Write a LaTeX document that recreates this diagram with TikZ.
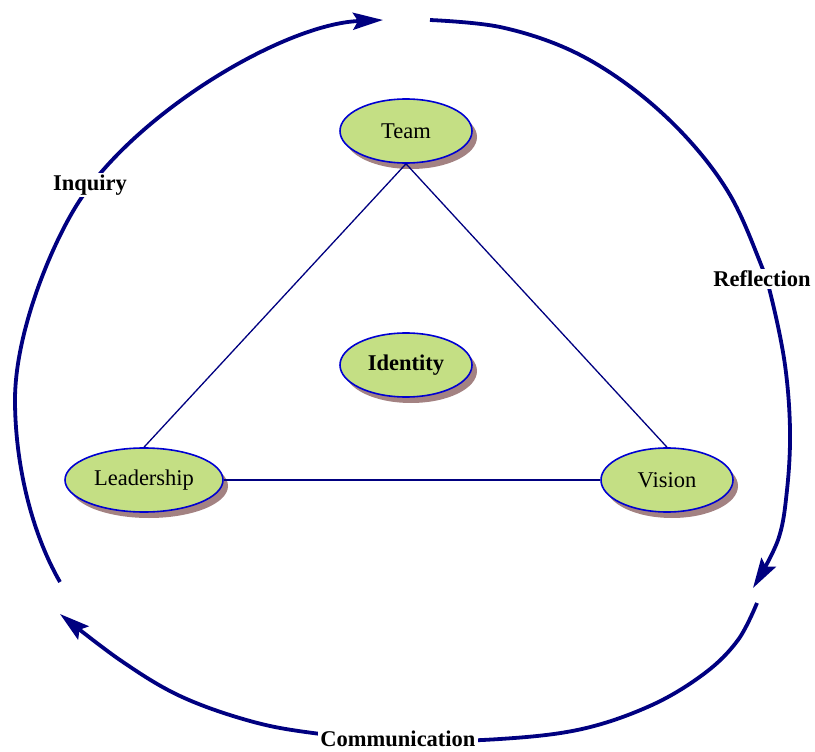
\documentclass[tikz,border=0pt]{standalone}
\usepackage{fontspec}
\setmainfont{Liberation Serif}
\usetikzlibrary{shapes.geometric,shadows,arrows.meta}
\definecolor{navy}{RGB}{0,0,128}
\definecolor{rim}{RGB}{0,0,210}
\definecolor{leaf}{RGB}{196,223,132}
\definecolor{shade}{RGB}{163,130,130}
\tikzset{
  topic/.style={ellipse, draw=rim, line width=1.6pt, fill=leaf,
    minimum height=64pt, inner sep=0pt,
    drop shadow={shadow xshift=5pt, shadow yshift=-6pt, fill=shade, opacity=1},
    font=\fontsize{22.5}{26}\selectfont},
  link/.style={draw=navy, line width=1.3pt},
  cycle/.style={draw=navy, line width=3.8pt,
    -{Stealth[length=30pt, width=17pt, inset=5pt]}},
  phase/.style={fill=white, inner sep=2pt, font=\fontsize{22.5}{26}\selectfont\bfseries}
}
\begin{document}
\begin{tikzpicture}[x=1pt, y=-1pt]
\useasboundingbox (0,0) rectangle (815,752);

% outer cycle
\coordinate (a0) at (60,582);
\coordinate (a1) at (15,400);
\coordinate (a2) at (80,200);
\coordinate (a3) at (383,20);
\draw[cycle] (a0) .. controls (30,530) and (15,460) .. (a1)
  .. controls (15,330) and (54,239) .. (a2)
  .. controls (140,110) and (285,24) .. (a3);
\draw[cycle] plot[smooth, tension=0.6] coordinates {
  (430,20) (500,27) (570,50) (632,88) (687,138) (730,195) (760,262) (772,300)
  (785,365) (790,430) (787,490) (778,540) (753,588)};
\draw[cycle] plot[smooth, tension=0.6] coordinates {
  (757,603) (738,640) (705,673) (652,705) (582,729) (500,739) (400,741)
  (313,733) (250,721) (180,696) (120,660) (60,614)};

\node[phase] (inq) at (90,185) {Inquiry};
\node[phase] (ref) at (762,279) {Reflection};
\node[phase] (com) at (398,739) {Communication};

% topic ellipses
\node[topic, minimum width=132pt] (team) at (406,131) {Team};
\node[topic, minimum width=132pt, font=\fontsize{22.5}{26}\selectfont\bfseries] (ident) at (406,365) {Identity};
\node[topic, minimum width=158pt] (lead) at (144,480) {Leadership};
\node[topic, minimum width=132pt] (vis) at (667,480) {Vision};

% triangle
\draw[link] (team.south) -- (lead.north);
\draw[link] (team.south) -- (vis.north);
\draw[link, line width=2pt] (lead.east) -- (vis.west);
\end{tikzpicture}
\end{document}
